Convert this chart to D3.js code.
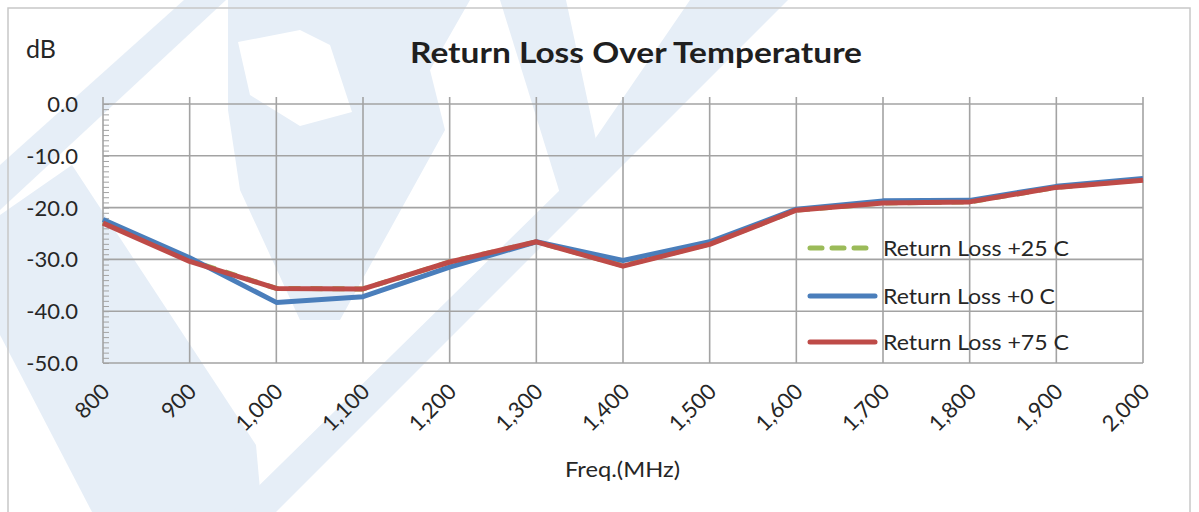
<!DOCTYPE html>
<html lang="en">
  <head>
    <meta charset="utf-8">
    <title>Return Loss Over Temperature</title>
    <script src="https://d3js.org/d3.v7.min.js"></script>
    <style>
      body {
        margin: 0;
        background: #fff;
        font-family: Lato, "Open Sans", sans-serif;
      }
      .grid line {
        stroke: #a3a3a3;
        stroke-width: 1.6;
      }
      .tick-label {
        font-size: 22px;
        fill: #262626;
      }
    </style>
  </head>
  <body>
    <svg id="chart" width="1199" height="512"></svg>

    <script>

    // data ****************************
    let freqs = [800, 900, 1000, 1100, 1200, 1300, 1400, 1500, 1600, 1700, 1800, 1900, 2000]
    let freqLabels = ["800", "900", "1,000", "1,100", "1,200", "1,300", "1,400", "1,500", "1,600", "1,700", "1,800", "1,900", "2,000"]

    // +25 C is hidden under the other two traces in the picture
    let rl25 = [-22.8, -30.2, -35.6, -35.7, -30.5, -26.6, -31.2, -27.0, -20.5, -19.1, -18.9, -16.1, -14.6]
    let rl0  = [-22.3, -29.7, -38.3, -37.2, -31.5, -26.6, -30.2, -26.6, -20.3, -18.7, -18.6, -15.9, -14.4]
    let rl75 = [-23.0, -30.4, -35.6, -35.7, -30.5, -26.6, -31.3, -27.1, -20.5, -19.1, -18.9, -16.1, -14.7]

    let yTicks = [0, -10, -20, -30, -40, -50]
    let yLabels = ["0.0", "-10.0", "-20.0", "-30.0", "-40.0", "-50.0"]

    let seriesNames = ["Return Loss +25 C", "Return Loss +0 C", "Return Loss +75 C"]
    let seriesColors = ["#9bbb59", "#4a7ebb", "#be4b48"]

    // setup *****************************
    const svg = d3.select("#chart")

    const x = d3.scaleLinear().domain([800, 2000]).range([103, 1143])
    const y = d3.scaleLinear().domain([-50, 0]).range([363, 104])

    // faint logo watermark in the background (rough)
    const wm = svg.append("g")
    const wmShapes = [
      {c: "#e6eef7", p: [[184, 0], [226, 0], [0, 210], [0, 165]]},
      {c: "#e6eef7", p: [[0, 215], [72, 165], [256, 445], [262, 512], [92, 512], [0, 335]]},
      {c: "#e6eef7", p: [[228, 0], [470, 0], [430, 70], [445, 130], [340, 320], [300, 320], [240, 190], [228, 110]]},
      {c: "#ffffff", p: [[238, 42], [300, 30], [330, 45], [352, 112], [300, 126], [250, 95]]},
      {c: "#e6eef7", p: [[500, 0], [566, 0], [602, 168], [562, 200]]},
      {c: "#e6eef7", p: [[690, 0], [788, 0], [276, 512], [232, 512], [560, 190]]}
    ]
    wm.selectAll("polygon")
      .data(wmShapes)
      .join("polygon")
        .attr("fill", d => d.c)
        .attr("points", d => d.p.map(p => p.join(",")).join(" "))

    // outer frame
    svg.append("rect")
      .attr("x", 8).attr("y", 8)
      .attr("width", 1182).attr("height", 520)
      .attr("fill", "none")
      .attr("stroke", "#c8c8c8")
      .attr("stroke-width", 1.5)

    // grid
    const grid = svg.append("g").attr("class", "grid")
    grid.selectAll("line.h")
      .data(yTicks)
      .join("line")
        .attr("class", "h")
        .attr("x1", x(800)).attr("x2", x(2000))
        .attr("y1", d => y(d)).attr("y2", d => y(d))
    grid.selectAll("line.v")
      .data(freqs)
      .join("line")
        .attr("class", "v")
        .attr("x1", d => x(d)).attr("x2", d => x(d))
        .attr("y1", y(0) - 7).attr("y2", y(-50))

    // minor ticks on the value axis
    svg.append("g")
      .attr("transform", `translate(${x(800)},0)`)
      .call(d3.axisRight(y).tickValues(d3.range(-50, 0.5, 1)).tickSize(6).tickFormat(""))
      .call(g => g.select(".domain").remove())
      .call(g => g.selectAll(".tick line").attr("stroke", "#a3a3a3").attr("stroke-width", 1))

    // y labels
    svg.selectAll("text.ylab")
      .data(yTicks)
      .join("text")
        .attr("class", "ylab tick-label")
        .attr("x", 78)
        .attr("y", d => y(d) + 8)
        .attr("text-anchor", "end")
        .text((d, i) => yLabels[i])

    // x labels, rotated
    svg.selectAll("text.xlab")
      .data(freqs)
      .join("text")
        .attr("class", "xlab tick-label")
        .attr("font-size", 21)
        .attr("text-anchor", "end")
        .attr("transform", d => `translate(${x(d) + 8},${y(-50) + 30}) rotate(-45)`)
        .text((d, i) => freqLabels[i])

    // titles
    svg.append("text")
      .attr("x", 26).attr("y", 58)
      .attr("font-size", 25)
      .attr("fill", "#262626")
      .text("dB")

    svg.append("text")
      .attr("x", 410).attr("y", 63)
      .attr("font-size", 29)
      .attr("font-weight", "bold")
      .attr("fill", "#1f1f1f")
      .attr("textLength", 452)
      .attr("lengthAdjust", "spacingAndGlyphs")
      .text("Return Loss Over Temperature")

    svg.append("text")
      .attr("x", 565).attr("y", 477)
      .attr("font-size", 21)
      .attr("fill", "#262626")
      .attr("textLength", 115)
      .attr("lengthAdjust", "spacingAndGlyphs")
      .text("Freq.(MHz)")

    // lines
    const line = d3.line()
      .x((d, i) => x(freqs[i]))
      .y(d => y(d))

    let allSeries = [rl25, rl0, rl75]

    svg.append("g")
      .selectAll("path")
      .data(allSeries)
      .join("path")
        .attr("d", line)
        .attr("fill", "none")
        .attr("stroke", (d, i) => seriesColors[i])
        .attr("stroke-width", 5)
        .attr("stroke-dasharray", (d, i) => i == 0 ? "12,10" : null)
        .attr("stroke-linejoin", "round")

    // legend
    const legend = svg.append("g")
    const legY = [248, 296, 342]
    const legW = [186, 172, 186]

    legend.selectAll("line")
      .data(seriesNames)
      .join("line")
        .attr("x1", 810).attr("x2", 875)
        .attr("y1", (d, i) => legY[i]).attr("y2", (d, i) => legY[i])
        .attr("stroke", (d, i) => seriesColors[i])
        .attr("stroke-width", 5)
        .attr("stroke-linecap", "round")
        .attr("stroke-dasharray", (d, i) => i == 0 ? "12,10" : null)

    legend.selectAll("text")
      .data(seriesNames)
      .join("text")
        .attr("x", 883)
        .attr("y", (d, i) => legY[i] + 8)
        .attr("font-size", 22)
        .attr("fill", "#262626")
        .attr("textLength", (d, i) => legW[i])
        .attr("lengthAdjust", "spacingAndGlyphs")
        .text(d => d)

    </script>
  </body>
</html>
